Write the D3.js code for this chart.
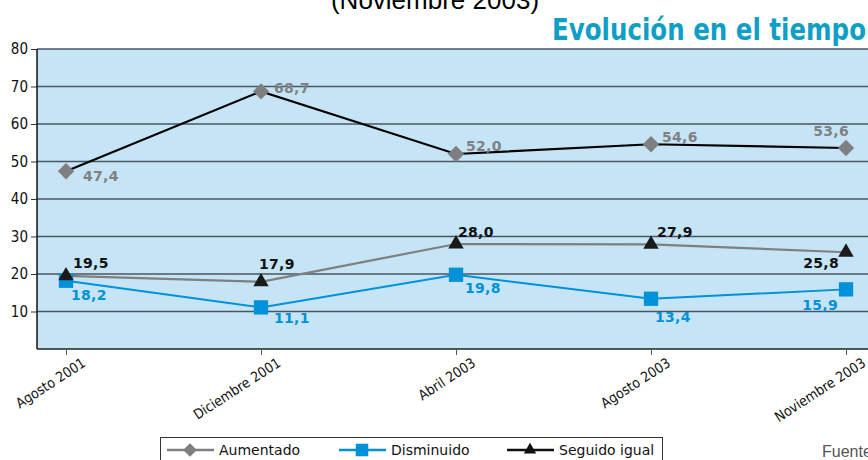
<html>
<head>
    <meta charset="utf-8">
    <title>Evolución en el tiempo</title>
    <style>
        body { margin: 0; background: white; }
        svg { display: block; }
        .tick text { font-family: "DejaVu Sans Condensed", "DejaVu Sans", sans-serif; }
        .lbl { font-family: "DejaVu Sans", sans-serif; font-size: 14px; font-weight: bold; letter-spacing: 0.3px; }
    </style>
    <script src="https://cdn.jsdelivr.net/npm/d3@7"></script>
</head>
<body>
<div id="chart"></div>
<script>
    var categories = ['Agosto 2001', 'Diciembre 2001', 'Abril 2003', 'Agosto 2003', 'Noviembre 2003'];
    var aumentado = [47.4, 68.7, 52.0, 54.6, 53.6];
    var disminuido = [18.2, 11.1, 19.8, 13.4, 15.9];
    var seguidoIgual = [19.5, 17.9, 28.0, 27.9, 25.8];
    var yTicks = [10, 20, 30, 40, 50, 60, 70, 80];

    var W = 868, H = 460;
    var plotLeft = 37, plotTop = 49, plotBottom = 349;

    var svg = d3.select('#chart').append('svg')
            .attr('width', W)
            .attr('height', H);

    var x = d3.scalePoint().domain(categories).range([66, 846]);
    var y = d3.scaleLinear().domain([0, 80]).range([plotBottom, plotTop]);

    // titles
    svg.append('text')
            .attr('x', 435).attr('y', 9)
            .attr('text-anchor', 'middle')
            .style('font', '26px "Liberation Sans", sans-serif')
            .text('(Noviembre 2003)');

    svg.append('text')
            .attr('x', 866).attr('y', 40)
            .attr('text-anchor', 'end')
            .style('font', 'bold 30px "DejaVu Sans Condensed", sans-serif')
            .style('fill', '#0f9fc6')
            .attr('textLength', 314)
            .attr('lengthAdjust', 'spacingAndGlyphs')
            .text('Evolución en el tiempo');

    // plot background
    svg.append('rect')
            .attr('x', plotLeft).attr('y', plotTop)
            .attr('width', W - plotLeft + 5).attr('height', plotBottom - plotTop)
            .attr('fill', '#c5e5f7');

    // grid lines
    svg.append('g').selectAll('line')
            .data(yTicks)
        .enter().append('line')
            .attr('x1', plotLeft).attr('x2', W)
            .attr('y1', function(d) { return y(d) })
            .attr('y2', function(d) { return y(d) })
            .attr('stroke', '#4a5560')
            .attr('stroke-width', 1.5);

    // y axis
    var yAxis = svg.append('g')
            .attr('transform', 'translate(' + plotLeft + ',0)')
            .call(d3.axisLeft(y).tickValues(yTicks).tickSize(6).tickPadding(3));
    yAxis.select('.domain').attr('stroke', '#111').attr('stroke-width', 1.5)
            .attr('d', 'M0,' + plotTop + 'V' + plotBottom);
    yAxis.selectAll('.tick line').attr('stroke', '#333');
    yAxis.selectAll('.tick text').style('font-size', '15px').attr('fill', '#111');

    // x axis
    var xAxis = svg.append('g')
            .attr('transform', 'translate(0,' + plotBottom + ')')
            .call(d3.axisBottom(x).tickSize(6).tickSizeOuter(0));
    xAxis.select('.domain').attr('stroke', '#222').attr('stroke-width', 1.5)
            .attr('d', 'M' + plotLeft + ',0H' + W);
    xAxis.selectAll('.tick line').attr('stroke', '#555');
    xAxis.selectAll('.tick text')
            .style('font-size', '14px')
            .attr('fill', '#111')
            .attr('text-anchor', 'end')
            .attr('transform', 'translate(14,7) rotate(-33)')
            .attr('dy', '0.8em').attr('y', 0);

    var line = d3.line()
            .x(function(d, i) { return x(categories[i]) })
            .y(function(d) { return y(d) });

    // lines (colours as printed in the source chart)
    svg.append('path').datum(seguidoIgual)
            .attr('d', line).attr('fill', 'none')
            .attr('stroke', '#7f7f7f').attr('stroke-width', 2.2);
    svg.append('path').datum(disminuido)
            .attr('d', line).attr('fill', 'none')
            .attr('stroke', '#0091d9').attr('stroke-width', 2);
    svg.append('path').datum(aumentado)
            .attr('d', line).attr('fill', 'none')
            .attr('stroke', '#000').attr('stroke-width', 2.2);

    // markers
    var diamond = d3.symbol().type(d3.symbolDiamond2).size(170);
    var square = d3.symbol().type(d3.symbolSquare2).size(260);
    var triangle = d3.symbol().type(d3.symbolTriangle2).size(170);

    function markers(data, sym, color) {
        svg.append('g').selectAll('path')
                .data(data)
            .enter().append('path')
                .attr('d', sym)
                .attr('transform', function(d, i) {
                    return 'translate(' + x(categories[i]) + ',' + y(d) + ')';
                })
                .attr('fill', color);
    }
    markers(aumentado, diamond, '#7f7f7f');
    markers(disminuido, square, '#0091d9');
    markers(seguidoIgual, triangle, '#1a1a1a');

    // value labels: offsets per point [dx, dy, anchor]
    var aumOff = [[17, 10, 'start'], [13, 2, 'start'], [10, -3, 'start'], [11, -2, 'start'], [3, -12, 'end']];
    var disOff = [[5, 19, 'start'], [13, 16, 'start'], [9, 18, 'start'], [4, 23, 'start'], [-8, 21, 'end']];
    var segOff = [[7, -8, 'start'], [-2, -13, 'start'], [2, -7, 'start'], [6, -7, 'start'], [-7, 16, 'end']];

    function labels(data, off, color) {
        svg.append('g').selectAll('text')
                .data(data)
            .enter().append('text')
                .attr('class', 'lbl')
                .attr('x', function(d, i) { return x(categories[i]) + off[i][0] })
                .attr('y', function(d, i) { return y(d) + off[i][1] })
                .attr('text-anchor', function(d, i) { return off[i][2] })
                .attr('fill', color)
                .text(function(d) { return d.toFixed(1).replace('.', ',') });
    }
    labels(aumentado, aumOff, '#808080');
    labels(disminuido, disOff, '#0091d9');
    labels(seguidoIgual, segOff, '#111');

    // legend
    var legend = svg.append('g');
    legend.append('rect')
            .attr('x', 160.5).attr('y', 437.5)
            .attr('width', 502).attr('height', 30)
            .attr('fill', 'white').attr('stroke', '#333');

    var legendItems = [
        { name: 'Aumentado', x: 167, color: '#7f7f7f', sym: diamond, size: 120 },
        { name: 'Disminuido', x: 339, color: '#0091d9', sym: square, size: 200 },
        { name: 'Seguido igual', x: 507, color: '#111', sym: triangle, size: 110 }
    ];
    legendItems.forEach(function(it) {
        legend.append('line')
                .attr('x1', it.x).attr('x2', it.x + 47)
                .attr('y1', 450).attr('y2', 450)
                .attr('stroke', it.color).attr('stroke-width', 2.5);
        legend.append('path')
                .attr('d', it.sym.size(it.size)())
                .attr('transform', 'translate(' + (it.x + 23) + ',450)')
                .attr('fill', it.color);
        legend.append('text')
                .attr('x', it.x + 52).attr('y', 455)
                .style('font', '14px "DejaVu Sans", sans-serif')
                .attr('fill', '#111')
                .text(it.name);
    });

    svg.append('text')
            .attr('x', 822).attr('y', 457)
            .style('font', '16px "Liberation Sans", sans-serif')
            .attr('fill', '#555')
            .text('Fuente');
</script>
</body>
</html>
